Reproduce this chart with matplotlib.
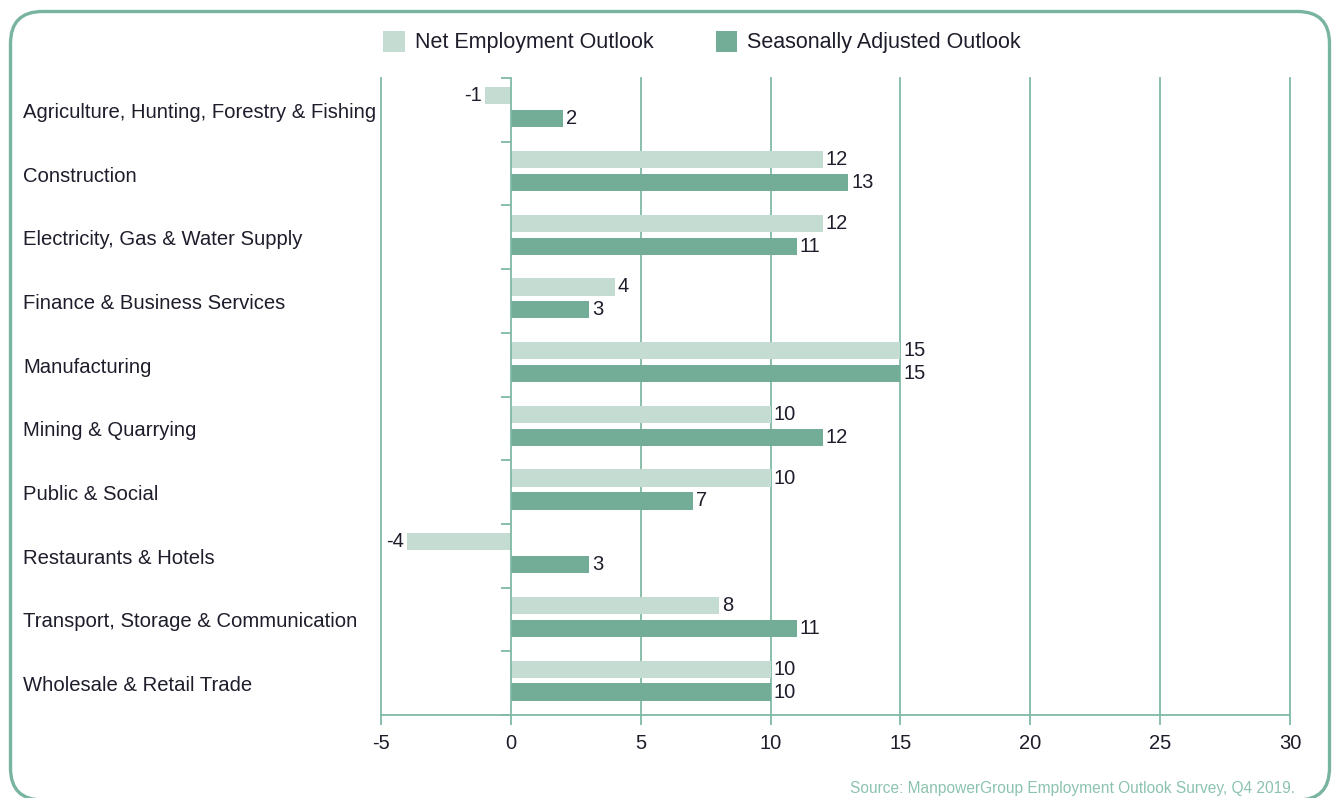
import numpy as np
import matplotlib
matplotlib.use("Agg")
import matplotlib.pyplot as plt
import matplotlib.transforms as mtransforms
from matplotlib.patches import FancyBboxPatch, Patch

plt.rcParams['font.family'] = ['Liberation Sans', 'DejaVu Sans']

# data
categories = [
    'Agriculture, Hunting, Forestry & Fishing',
    'Construction',
    'Electricity, Gas & Water Supply',
    'Finance & Business Services',
    'Manufacturing',
    'Mining & Quarrying',
    'Public & Social',
    'Restaurants & Hotels',
    'Transport, Storage & Communication',
    'Wholesale & Retail Trade',
]
net_outlook = [-1, 12, 12, 4, 15, 10, 10, -4, 8, 10]
seasonal_outlook = [2, 13, 11, 3, 15, 12, 7, 3, 11, 10]
x_ticks = [-5, 0, 5, 10, 15, 20, 25, 30]

light = '#c4dcd1'
dark = '#74ad97'
line_c = '#7fbaa5'
text_c = '#1d1d2b'

W, H = 1335, 798
fig = plt.figure(figsize=(W / 100, H / 100), dpi=100, facecolor='white')

# rounded frame (pixel coords)
frame = FancyBboxPatch((10.5, -2), 1319, 798 - 11.5 + 2,
                       boxstyle='round,pad=0,rounding_size=32',
                       transform=None, fill=False, edgecolor='#78b49e', linewidth=2.4)
fig.patches.append(frame)

ax = fig.add_axes([381 / W, 1 - 715 / H, 909 / W, 637 / H])
n = len(categories)
y = np.arange(n) + 0.5
bh = 0.27

ax.barh(y - 0.22, net_outlook, height=bh, color=light, zorder=3)
ax.barh(y + 0.14, seasonal_outlook, height=bh, color=dark, zorder=3)

for xi in x_ticks:
    if xi != 0:
        ax.axvline(xi, color=line_c, linewidth=1.3, zorder=1, clip_on=False)

ax.set_xlim(-5, 30)
ax.set_ylim(n, 0)

for s in ['top', 'right']:
    ax.spines[s].set_visible(False)
ax.spines['bottom'].set_color(line_c)
ax.spines['bottom'].set_linewidth(1.3)
ax.spines['left'].set_position(('data', 0))
ax.spines['left'].set_color(line_c)
ax.spines['left'].set_linewidth(1.3)
ax.spines['left'].set_zorder(4)

ax.set_xticks(x_ticks)
ax.set_xticklabels([str(v) for v in x_ticks])
ax.tick_params(axis='x', length=7, width=1.3, color=line_c, labelsize=14.5,
               labelcolor=text_c, pad=7)
ax.set_yticks(np.arange(n + 1))
ax.set_yticklabels([])
ax.tick_params(axis='y', length=7.5, width=1.3, color=line_c)


def add_labels(ypos, vals):
    for yi, v in zip(ypos, vals):
        if v < 0:
            ax.text(v - 0.12, yi, str(v), ha='right', va='center', fontsize=14.5, color=text_c)
        else:
            ax.text(v + 0.12, yi, str(v), ha='left', va='center', fontsize=14.5, color=text_c)


add_labels(y - 0.22, net_outlook)
add_labels(y + 0.14, seasonal_outlook)

# category labels, left aligned
trans = mtransforms.blended_transform_factory(fig.transFigure, ax.transData)
for yi, c in zip(y, categories):
    ax.text(23 / W, yi + 0.04, c, transform=trans, ha='left', va='center',
            fontsize=14.6, color=text_c)

# legend
handles = [Patch(facecolor=light, edgecolor='none', label='Net Employment Outlook'),
           Patch(facecolor=dark, edgecolor='none', label='Seasonally Adjusted Outlook')]
fig.legend(handles=handles, loc='center', bbox_to_anchor=(702 / W, 1 - 42 / H), ncol=2,
           frameon=False, fontsize=15.5, handlelength=1.0, handleheight=1.15,
           columnspacing=2.9, handletextpad=0.47, labelcolor=text_c)

fig.text(1295 / W, 1 - 789 / H, 'Source: ManpowerGroup Employment Outlook Survey, Q4 2019.',
         ha='right', va='center', fontsize=11.2, color='#8cc3ae')

plt.savefig('out.png', dpi=100, facecolor='white')
plt.close()
